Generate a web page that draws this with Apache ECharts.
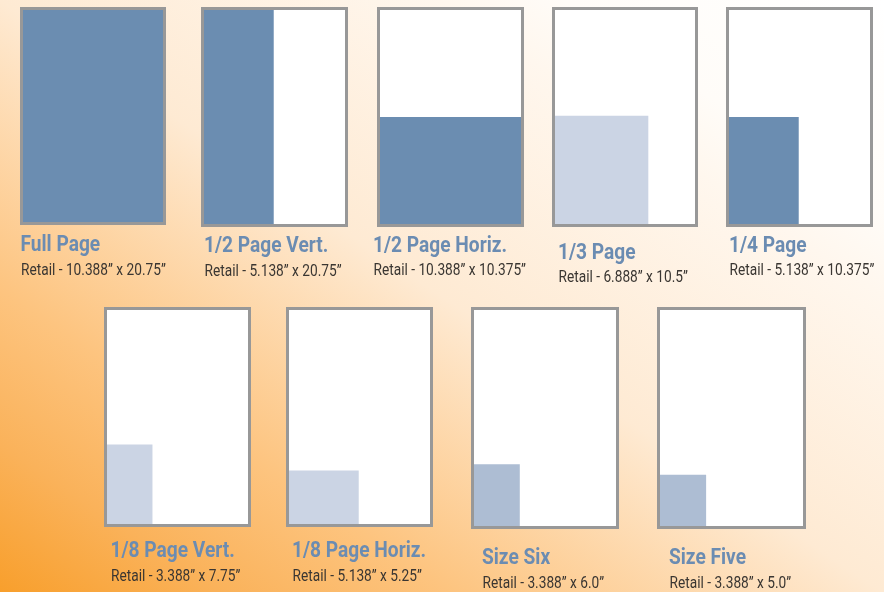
<!DOCTYPE html>
<html>
<head>
<meta charset="utf-8">
<script src="https://cdn.jsdelivr.net/npm/echarts@6/dist/echarts.min.js"></script>
<style>
html,body{margin:0;padding:0;background:#fff;}
#chart{width:884px;height:592px;}
</style>
</head>
<body>
<div id="chart"></div>
<script>
// ---- data ----
const pageWidth = 10.388;
const pageHeight = 20.75;
const adNames = ['Full Page', '1/2 Page Vert.', '1/2 Page Horiz.', '1/3 Page', '1/4 Page',
                 '1/8 Page Vert.', '1/8 Page Horiz.', 'Size Six', 'Size Five'];
const adWidths = [10.388, 5.138, 10.388, 6.888, 5.138, 3.388, 5.138, 3.388, 3.388];
const adHeights = [20.75, 20.75, 10.375, 10.5, 10.375, 7.75, 5.25, 6.0, 5.0];
const adSizeLabels = ['Retail - 10.388\u201D x 20.75\u201D', 'Retail - 5.138\u201D x 20.75\u201D',
                      'Retail - 10.388\u201D x 10.375\u201D', 'Retail - 6.888\u201D x 10.5\u201D',
                      'Retail - 5.138\u201D x 10.375\u201D', 'Retail - 3.388\u201D x 7.75\u201D',
                      'Retail - 5.138\u201D x 5.25\u201D', 'Retail - 3.388\u201D x 6.0\u201D',
                      'Retail - 3.388\u201D x 5.0\u201D'];

// ---- layout & style ----
const boxes = [ // outer border box [left, top, right, bottom]
  [20, 7, 166, 225], [201, 7, 348, 227], [377, 7, 524, 227], [552, 7, 698, 227], [726, 7, 873, 227],
  [104, 307, 251, 527], [286, 307, 433, 527], [471, 307, 619, 529], [657, 307, 806, 529]
];
const labelPos = [ // [x, titleY, subY]
  [20.5, 245.5, 271], [204, 246.5, 271.5], [373, 246.5, 271], [558, 253.5, 277.5], [729, 246.5, 271],
  [110.5, 551.5, 577], [292, 551.5, 577], [482, 558, 583.5], [669, 558.5, 583.5]
];
const fillColors = ['#6b8db1', '#6b8db1', '#6b8db1', '#cbd4e4', '#6b8db1',
                    '#cbd4e4', '#cbd4e4', '#adbdd3', '#adbdd3'];
const BW = 3;
const titleFont = 'bold 22px Roboto, "DejaVu Sans", sans-serif';
const subFont = '16px Roboto, "DejaVu Sans", sans-serif';
const titleRefWidth = 134;   // rendered width of "1/2 Page Horiz."
const subRefWidth = 152.5;   // rendered width of the longest size line

const mctx = document.createElement('canvas').getContext('2d');
function measure(text, font) { mctx.font = font; return mctx.measureText(text).width; }
const titleScale = titleRefWidth / measure(adNames[2], titleFont);
const subScale = subRefWidth / measure(adSizeLabels[2], subFont);

const grids = [], xAxes = [], yAxes = [], series = [];
const graphics = [{
  type: 'rect', z: -10, silent: true,
  shape: { x: 0, y: 0, width: 884, height: 592 },
  style: {
    fill: {
      type: 'linear', global: true, x: 0, y: 592, x2: 547, y2: -225,
      colorStops: [
        { offset: 0, color: '#f89f2c' },
        { offset: 0.125, color: '#fab25a' },
        { offset: 0.255, color: '#fdc47f' },
        { offset: 0.5, color: '#feead3' },
        { offset: 0.75, color: '#fff7ee' },
        { offset: 0.82, color: '#fffcf8' },
        { offset: 1, color: '#ffffff' }
      ]
    }
  }
}];

boxes.forEach((b, i) => {
  grids.push({
    left: b[0] + BW / 2, top: b[1] + BW / 2,
    width: b[2] - b[0] - BW, height: b[3] - b[1] - BW,
    containLabel: false
  });
  xAxes.push({ type: 'value', gridIndex: i, min: 0, max: pageWidth, show: false });
  yAxes.push({ type: 'value', gridIndex: i, min: 0, max: pageHeight, show: false });
  series.push({
    type: 'custom',
    xAxisIndex: i, yAxisIndex: i,
    silent: true,
    data: [[adWidths[i], adHeights[i]]],
    renderItem: function (params, api) {
      const tl = api.coord([0, pageHeight]);
      const br = api.coord([pageWidth, 0]);
      const a = api.coord([api.value(0), api.value(1)]);
      const page = { x: tl[0], y: tl[1], width: br[0] - tl[0], height: br[1] - tl[1] };
      return {
        type: 'group',
        children: [
          { type: 'rect', shape: page, style: { fill: '#ffffff' } },
          { type: 'rect', shape: { x: tl[0], y: a[1], width: a[0] - tl[0], height: br[1] - a[1] },
            style: { fill: fillColors[i] } },
          { type: 'rect', shape: page, style: { fill: 'none', stroke: '#989898', lineWidth: BW } }
        ]
      };
    }
  });
  const p = labelPos[i];
  graphics.push({
    type: 'text', x: p[0], y: p[1], scaleX: titleScale, silent: true,
    style: { text: adNames[i], font: titleFont, fill: '#6b8cb2',
             align: 'left', verticalAlign: 'middle', textAlign: 'left', textVerticalAlign: 'middle' }
  });
  graphics.push({
    type: 'text', x: p[0] + 0.5, y: p[2], scaleX: subScale, silent: true,
    style: { text: adSizeLabels[i], font: subFont, fill: '#3a3632',
             align: 'left', verticalAlign: 'middle', textAlign: 'left', textVerticalAlign: 'middle' }
  });
});

const chart = echarts.init(document.getElementById('chart'), null, { renderer: 'canvas' });
chart.setOption({
  animation: false,
  grid: grids,
  xAxis: xAxes,
  yAxis: yAxes,
  series: series,
  graphic: graphics
});
</script>
</body>
</html>
